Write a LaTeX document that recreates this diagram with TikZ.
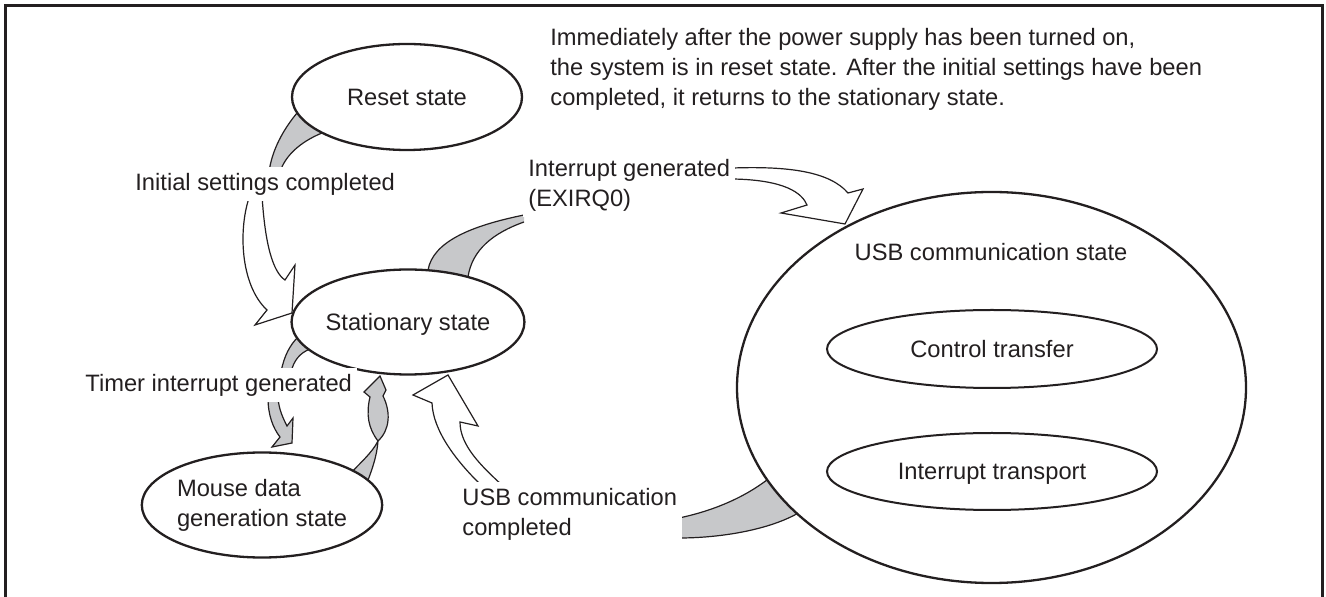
\documentclass[tikz,border=0pt]{standalone}
\usepackage{fontspec}
\setmainfont{Liberation Sans}
\usetikzlibrary{shapes.geometric}
\definecolor{agray}{RGB}{199,200,202}
\definecolor{ink}{RGB}{35,31,32}
\pgfdeclarelayer{bg}
\pgfsetlayers{bg,main}
\begin{document}
\begin{tikzpicture}[x=0.5pt,y=-0.5pt,
  font=\fontsize{11.85}{15}\selectfont, text=ink,
  state/.style={ellipse, draw=ink, line width=1.15pt, fill=white, inner sep=0pt},
  sub/.style={ellipse, draw=ink, line width=1pt, fill=white, inner sep=0pt},
  lbl/.style={fill=white, inner xsep=2.5pt, inner ysep=3pt, align=left, anchor=west},
  rim/.style={draw=ink, line width=0.6pt},
  warrow/.style={fill=white, draw=ink, line width=0.6pt, line join=miter},
  garrow/.style={fill=agray, draw=ink, line width=0.6pt, line join=miter}]
\useasboundingbox (0,0) rectangle (1326,597);

% frame (open at the bottom)
\draw[ink, line width=1.5pt] (5,597) -- (5,6) -- (1322.5,6) -- (1322.5,597);

% states
\node[state, minimum width=115pt, minimum height=53pt] (reset) at (407,97) {Reset state};
\node[state, minimum width=115pt, minimum height=52.5pt, text depth=0pt] (stat) at (408,322) {Stationary state};
\node[state, minimum width=115pt, minimum height=52.5pt, align=left] (mouse) at (262,505) {Mouse data\\generation state};
\node[state, minimum width=254.5pt, minimum height=195.5pt] (usb) at (991.5,387.5) {};
\node (usbtxt) at (991,252) {USB communication state};
\node[sub, minimum width=165pt, minimum height=39pt] (ctrl) at (992,349) {Control transfer};
\node[sub, minimum width=165pt, minimum height=38.5pt, text depth=0pt] (intr) at (992,471.5) {Interrupt transport};

% labels
\node[lbl] (lInit) at (130,184) {Initial settings completed};
\node[lbl] (lTimer) at (80,385) {Timer interrupt generated};
\node[lbl] (lIrq) at (523,185) {Interrupt generated\\(EXIRQ0)};
\node[lbl] (lUsb) at (457,514) {USB communication\\completed};
\node[anchor=west, align=left, inner sep=0pt] (note) at (550,69.5)
  {Immediately after the power supply has been turned on,\\the system is in reset state. After the initial settings have been\\completed, it returns to the stationary state.};

\begin{pgfonlayer}{bg}
% Reset -> Stationary
\fill[agray] (300,105) -- (297,113) .. controls (283,130) and (272,150) .. (269,172)
  -- (280,172) .. controls (285,156) and (300,142) .. (322,133) -- (330,120) -- cycle;
\draw[rim] (297,113) .. controls (283,130) and (272,150) .. (269,172);
\draw[rim] (280,172) .. controls (285,156) and (300,142) .. (322,133);
\draw[warrow] (262,195) -- (250,195) .. controls (238,228) and (240,285) .. (267,310)
  -- (255,325) -- (292,313) -- (295,265) -- (285,280)
  .. controls (273,272) and (265,245) .. (262,195);

% Stationary -> USB (EXIRQ0)
\fill[agray] (425,285) -- (428,270) .. controls (433,242) and (470,226) .. (524,215)
  -- (524,222) .. controls (493,233) and (472,250) .. (468,277) -- cycle;
\draw[rim] (428,270) .. controls (433,242) and (470,226) .. (524,215);
\draw[rim] (524,222) .. controls (493,233) and (472,250) .. (468,277);
\draw[warrow] (733,179) -- (733,168) .. controls (790,166) and (830,172) .. (848,193)
  -- (863,189) -- (845,224) -- (781,213) -- (807,205)
  .. controls (802,193) and (785,180) .. (733,179);

% USB -> Stationary
\fill[agray] (679,518) .. controls (712,511) and (745,498) .. (772,476) -- (805,505)
  -- (800,512) .. controls (770,530) and (720,538) .. (679,538) -- cycle;
\draw[rim] (679,518) .. controls (712,511) and (745,498) .. (772,476);
\draw[rim] (800,512) .. controls (770,530) and (720,538) .. (679,538);
\draw[warrow] (503,486) -- (482,486) .. controls (455,460) and (433,430) .. (432,403)
  -- (413,395) -- (448,375) -- (478,426) -- (460,422)
  .. controls (460,445) and (480,465) .. (503,486);

% Stationary -> Mouse (timer)
\fill[agray] (305,335) -- (298,337) .. controls (290,345) and (284,356) .. (281,372)
  -- (291,372) .. controls (294,360) and (300,353) .. (310,349) -- cycle;
\draw[rim] (298,337) .. controls (290,345) and (284,356) .. (281,372);
\draw[rim] (291,372) .. controls (294,360) and (300,353) .. (310,349);
\draw[garrow] (278,398) -- (268,398) .. controls (268,415) and (273,428) .. (280,437)
  -- (272,447) -- (292,443) -- (293,418) -- (287,426)
  .. controls (283,418) and (279,410) .. (278,398);

% Mouse -> Stationary
\draw[garrow] (349,475) .. controls (360,463) and (372,453) .. (378,441)
  .. controls (377,456) and (372,470) .. (365,488) -- cycle;
\draw[garrow] (378,441) .. controls (368,428) and (366,414) .. (370,397)
  -- (364,392) -- (380,376) -- (386,390) -- (383,396)
  .. controls (391,412) and (390,430) .. (378,441);
\end{pgfonlayer}
\end{tikzpicture}
\end{document}
